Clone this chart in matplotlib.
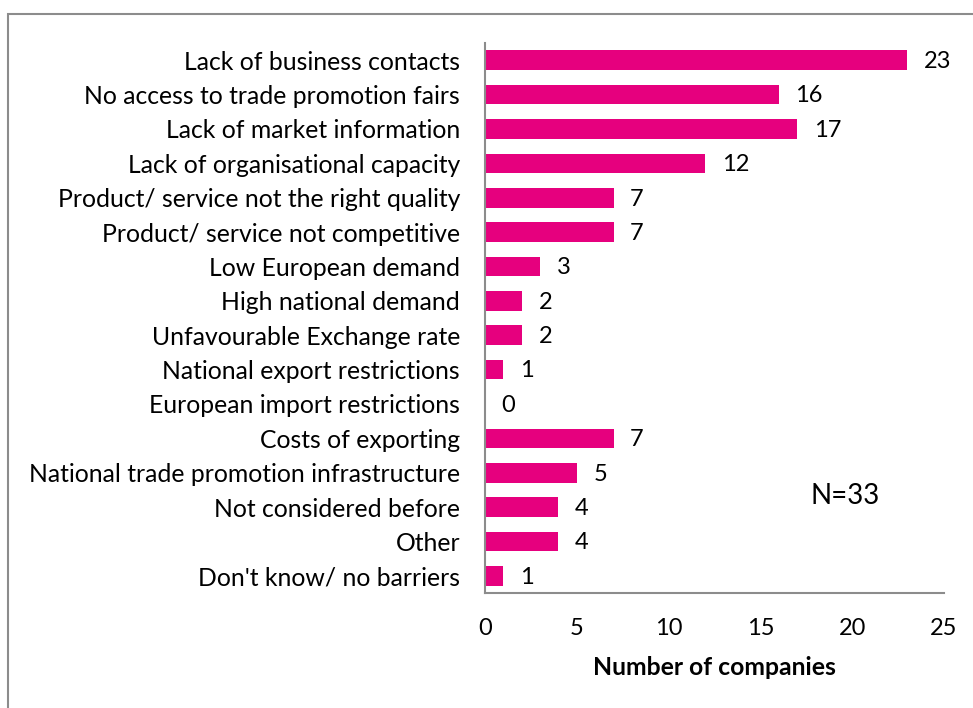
import matplotlib.pyplot as plt
from matplotlib.patches import Rectangle

# Barriers to exporting, number of companies naming each one
barreiras = ['Lack of business contacts', 'No access to trade promotion fairs',
             'Lack of market information', 'Lack of organisational capacity',
             'Product/ service not the right quality', 'Product/ service not competitive',
             'Low European demand', 'High national demand', 'Unfavourable Exchange rate',
             'National export restrictions', 'European import restrictions',
             'Costs of exporting', 'National trade promotion infrastructure',
             'Not considered before', 'Other', "Don't know/ no barriers"]
empresas = [23, 16, 17, 12, 7, 7, 3, 2, 2, 1, 0, 7, 5, 4, 4, 1]
ticks_x = [0, 5, 10, 15, 20, 25]

cor_barra = '#E6007E'
cor_eixo = '#8C8C8C'

plt.rcParams['font.family'] = ['Lato', 'DejaVu Sans']

fig = plt.figure(figsize=(9.73, 7.08), dpi=100)
ax = fig.add_axes([0.4985, 0.1624, 0.4717, 0.7768])

pos = range(len(barreiras))
ax.barh(pos, empresas, height=0.57, color=cor_barra)
ax.set_ylim(len(barreiras) - 0.5, -0.5)
ax.set_xlim(0, 25)

ax.set_yticks(list(pos))
ax.set_yticklabels(barreiras, fontsize=17.8)
ax.set_xticks(ticks_x)
ax.set_xticklabels([str(t) for t in ticks_x], fontsize=17)
ax.tick_params(axis='y', length=0, pad=18)
ax.tick_params(axis='x', length=0, pad=18)

# valores ao lado das barras
for i, v in enumerate(empresas):
    ax.annotate(str(v), (v, i), xytext=(12, -1), textcoords='offset points',
                ha='left', va='center', fontsize=17)

ax.set_xlabel('Number of companies', fontsize=17.8, fontweight='bold', labelpad=12)
ax.text(0.71, 0.177, 'N=33', transform=ax.transAxes, fontsize=20,
        ha='left', va='center')

for lado in ['top', 'right']:
    ax.spines[lado].set_visible(False)
for lado in ['left', 'bottom']:
    ax.spines[lado].set_color(cor_eixo)
    ax.spines[lado].set_linewidth(1.5)

# moldura do gráfico
fig.patches.append(Rectangle((8 / 973, -0.1), 1.2, 0.1 + (708 - 14) / 708,
                             transform=fig.transFigure, fill=False,
                             edgecolor=cor_eixo, linewidth=1.5, clip_on=False))

fig.savefig('out.png', dpi=100)
